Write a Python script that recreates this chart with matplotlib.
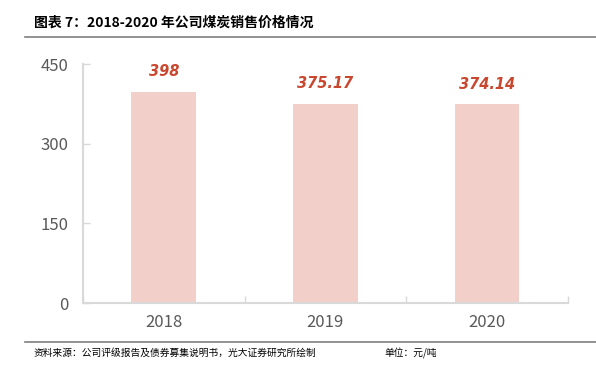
import matplotlib.pyplot as plt
import numpy as np

plt.rcParams['font.family'] = ['Noto Sans CJK SC', 'DejaVu Sans']

years = ['2018', '2019', '2020']
prices = [398, 375.17, 374.14]
price_labels = ['398', '375.17', '374.14']

fig = plt.figure(figsize=(5.96, 3.77), dpi=100)
ax = fig.add_axes([0.139, 0.196, 0.814, 0.634])

x = np.arange(len(years))
ax.bar(x, prices, width=0.4, color='#F2D0C9', zorder=2)
for xi, v, lab in zip(x, prices, price_labels):
    ax.annotate(lab, (xi, v), xytext=(0, 9), textcoords='offset points',
                ha='center', va='bottom', fontsize=10.5, fontstyle='italic',
                fontweight='bold', color='#C9472F', family=['DejaVu Sans'])

ax.set_xlim(-0.5, len(years) - 0.5)
ax.set_ylim(0, 450)
ax.set_yticks([0, 150, 300, 450])
ax.set_xticks(x)
ax.set_xticklabels(years)
ax.set_xticks([-0.5, 0.5, 1.5, 2.5], minor=True)

for s in ['top', 'right']:
    ax.spines[s].set_visible(False)
for s in ['left', 'bottom']:
    ax.spines[s].set_color('#D9D9D9')
    ax.spines[s].set_linewidth(1.5)
ax.tick_params(axis='y', colors='#D9D9D9', labelcolor='#595959', labelsize=12,
               length=5, width=1, direction='in', pad=10)
ax.tick_params(axis='x', which='major', length=0, labelcolor='#595959',
               labelsize=12, pad=8)
ax.tick_params(axis='x', which='minor', length=5, width=1, colors='#D9D9D9',
               direction='in')

fig.text(0.057, 0.93, '图表 7：2018-2020 年公司煤炭销售价格情况', fontsize=10,
         fontweight='bold', color='#000000', va='baseline')
fig.add_artist(plt.Line2D([0.042, 1.0], [0.902, 0.902], color='#7F7F7F', lw=1.2))
fig.add_artist(plt.Line2D([0.042, 1.0], [0.093, 0.093], color='#7F7F7F', lw=1.2))
fig.text(0.057, 0.055, '资料来源：公司评级报告及债券募集说明书，光大证券研究所绘制', fontsize=7,
         color='#000000', va='baseline')
fig.text(0.645, 0.055, '单位：元/吨', fontsize=7, color='#000000', va='baseline')

fig.savefig('out.png', dpi=100)
